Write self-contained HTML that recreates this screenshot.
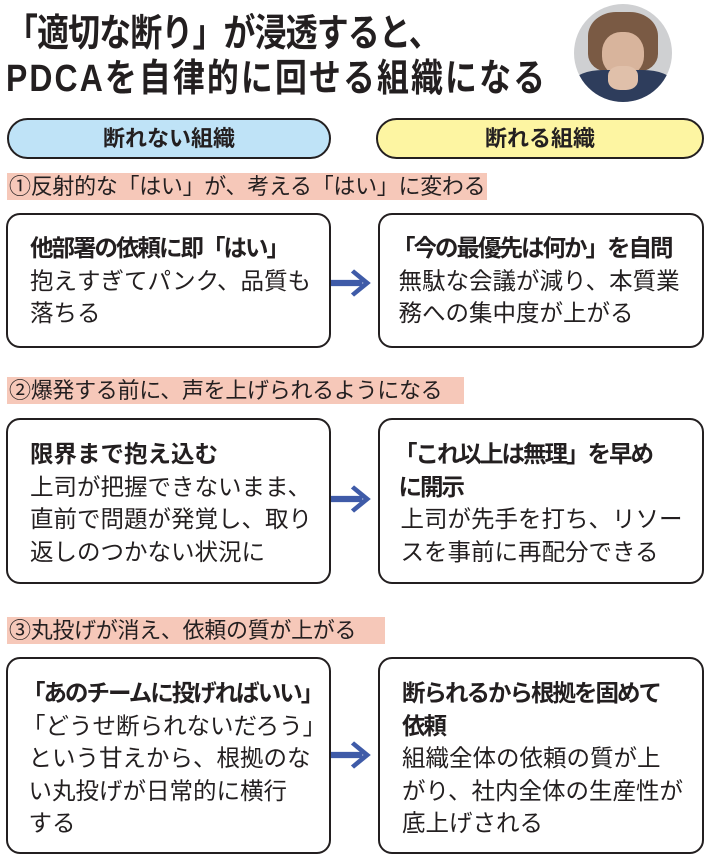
<!DOCTYPE html>
<html><head><meta charset="utf-8"><style>
*{margin:0;padding:0;box-sizing:border-box}
body{width:710px;height:860px;background:#fff;position:relative;overflow:hidden;font-family:"Liberation Sans","Noto Sans CJK JP",sans-serif;color:#231f20}
.t{position:absolute;left:6px;font-weight:bold;font-size:38px;line-height:44px;transform-origin:0 0;transform:scaleX(0.84);white-space:nowrap;letter-spacing:-1px}
.pill{position:absolute;top:118px;height:41px;border:2px solid #231f20;border-radius:21px;font-size:22px;font-weight:bold;text-align:center;line-height:37px}
.lab{position:absolute;left:7px;height:27px;background:#f6c8b9;font-size:22px;line-height:27px;padding-left:2px;white-space:nowrap;letter-spacing:-0.3px}
.box{position:absolute;border:2px solid #231f20;border-radius:14px;padding:17px 0 0 22px;font-size:23.5px;line-height:32.5px;white-space:nowrap}
.box b{font-weight:bold}
.n{letter-spacing:-2px}
.arr{position:absolute;left:331px;width:44px;height:32px}
</style></head><body>
<div class="t" style="top:12px">「適切な断り」が浸透すると、</div>
<div class="t" style="top:57px;letter-spacing:2.5px">PDCAを自律的に回せる組織になる</div>
<div style="position:absolute;left:574px;top:4px;width:98px;height:98px;border-radius:50%;overflow:hidden;background:#cfd0d2">
 <div style="position:absolute;left:14px;top:8px;width:70px;height:60px;border-radius:40% 40% 30% 30%;background:#7a5a44"></div>
 <div style="position:absolute;left:28px;top:28px;width:42px;height:44px;border-radius:45%;background:#d8b49c"></div>
 <div style="position:absolute;left:0;top:66px;width:98px;height:40px;background:#2e3d5c;border-radius:30% 30% 0 0"></div>
 <div style="position:absolute;left:34px;top:62px;width:30px;height:24px;border-radius:40%;background:#e0c0aa"></div>
</div>
<div class="pill" style="left:7px;width:324px;background:#bfe3f7">断れない組織</div>
<div class="pill" style="left:376px;width:328px;background:#fdf5a2">断れる組織</div>

<div class="lab" style="top:173px;width:480px">①反射的な「はい」が、考える「はい」に変わる</div>
<div class="box" style="left:6px;top:213px;width:325px;height:135px"><b class="n">他部署の依頼に即「はい」</b><br>抱えすぎてパンク、品質も<br>落ちる</div>
<div class="box" style="left:378px;top:213px;width:326px;height:135px;padding-left:12px"><b class="n">「今の最優先は何か」を自問</b><br>&nbsp;無駄な会議が減り、本質業<br>&nbsp;務への集中度が上がる</div>

<div class="lab" style="top:377px;width:457px">②爆発する前に、声を上げられるようになる</div>
<div class="box" style="left:6px;top:418px;width:325px;height:166px;padding-top:18px"><b>限界まで抱え込む</b><br>上司が把握できないまま、<br>直前で問題が発覚し、取り<br>返しのつかない状況に</div>
<div class="box" style="left:378px;top:418px;width:326px;height:166px;padding-top:18px;padding-left:14px"><b class="n">「これ以上は無理」を早め<br>&nbsp;に開示</b><br>&nbsp;上司が先手を打ち、リソー<br>&nbsp;スを事前に再配分できる</div>

<div class="lab" style="top:617px;width:378px">③丸投げが消え、依頼の質が上がる</div>
<div class="box" style="left:6px;top:657px;width:325px;height:197px;padding-top:18px;padding-left:14px"><b class="n">「あのチームに投げればいい」</b><br>「どうせ断られないだろう」<br>&nbsp;という甘えから、根拠のな<br>&nbsp;い丸投げが日常的に横行<br>&nbsp;する</div>
<div class="box" style="left:378px;top:657px;width:326px;height:197px;padding-top:18px;padding-left:22px"><b class="n">断られるから根拠を固めて<br>依頼</b><br>組織全体の依頼の質が上<br>がり、社内全体の生産性が<br>底上げされる</div>

<svg class="arr" style="top:267px" viewBox="0 0 42 30"><path d="M0 12h30v6H0z M22 2 L38 15 L22 28 L19 25 L31 15 L19 5z" fill="#3f5ba8"/></svg>
<svg class="arr" style="top:483px" viewBox="0 0 42 30"><path d="M0 12h30v6H0z M22 2 L38 15 L22 28 L19 25 L31 15 L19 5z" fill="#3f5ba8"/></svg>
<svg class="arr" style="top:739px" viewBox="0 0 42 30"><path d="M0 12h30v6H0z M22 2 L38 15 L22 28 L19 25 L31 15 L19 5z" fill="#3f5ba8"/></svg>
</body></html>
